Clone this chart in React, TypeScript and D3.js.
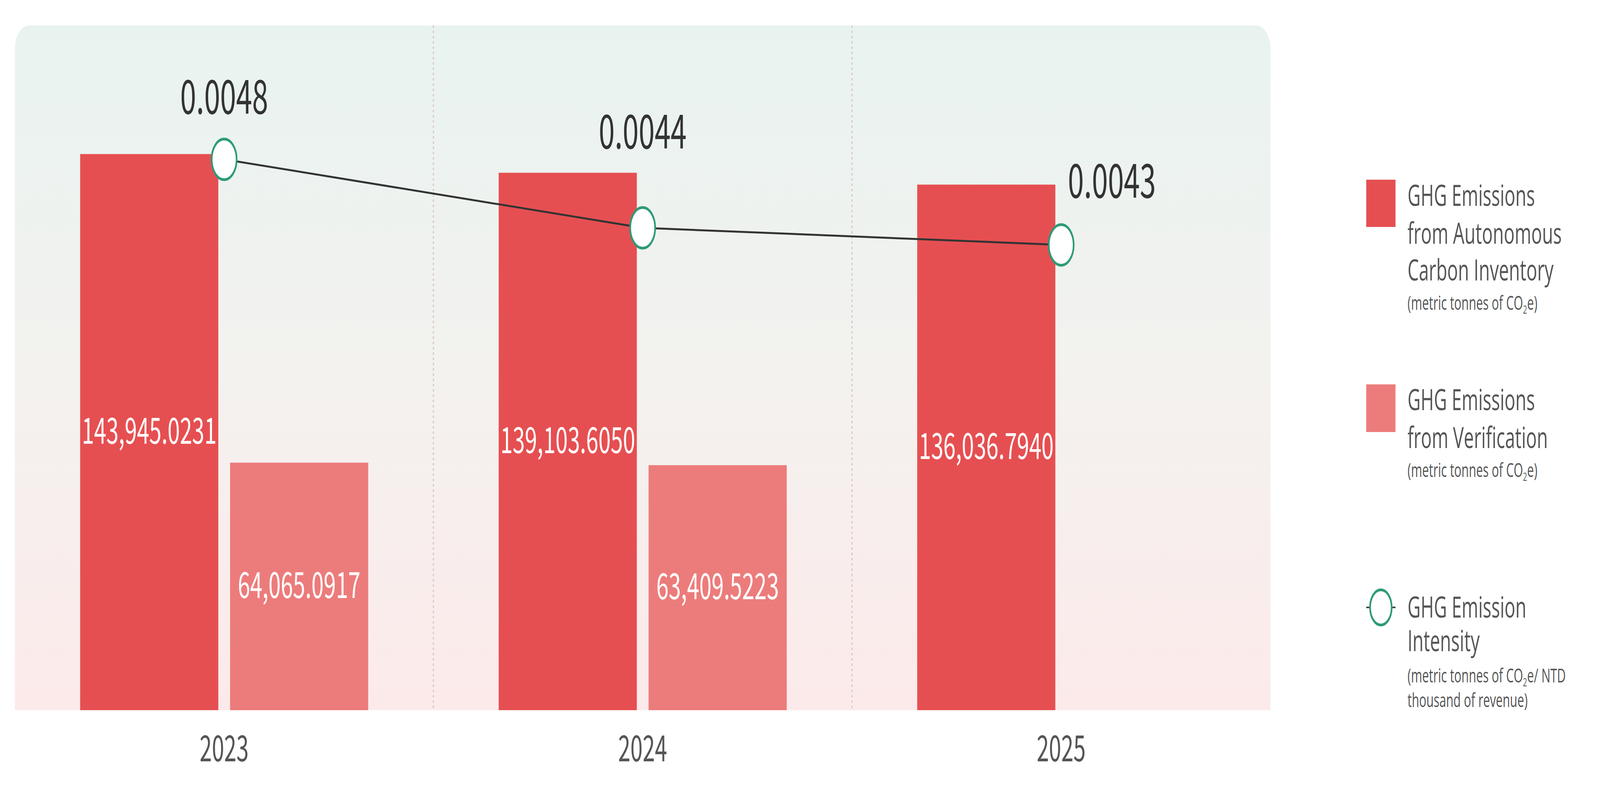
import React from "react";
import * as d3 from "d3";

const years = ["2023", "2024", "2025"];
const autonomous = [143945.0231, 139103.605, 136036.794];
const verification: (number | null)[] = [64065.0917, 63409.5223, null];
const intensity = [0.0048, 0.0044, 0.0043];
const seriesKeys = ["autonomous", "verification"];

const W = 6666;
const H = 2048;
const panel = { x0: 62, x1: 5293, y0: 65, y1: 1818, r: 60 };

const C_MAIN = "#E64F51";
const C_VER = "#EC7C7B";
const C_TEAL = "#2E9A78";
const NUM_FONT = "'Noto Sans CJK TC', 'Noto Sans', sans-serif";
const LEG_FONT = "'Open Sans', 'Noto Sans', sans-serif";

export default function App() {
  const x = d3.scaleBand<string>().domain(years).range([panel.x0, panel.x1]).padding(0);
  const xi = d3
    .scaleBand<string>()
    .domain(seriesKeys)
    .range([272, 1472])
    .paddingInner(0.0785)
    .paddingOuter(0);
  const y = d3.scaleLinear().domain([0, 150000]).range([panel.y1, panel.y1 - 150000 * 0.00989]);
  const yi = d3.scaleLinear().domain([0.0043, 0.0048]).range([627, 408]);
  const fmtBar = d3.format(",.4f");
  const fmtInt = d3.format(".4f");

  const pts = years.map((yr, i) => [x(yr)! + x.bandwidth() / 2, yi(intensity[i])] as [number, number]);
  const line = d3.line()(pts) || "";

  const { x0, x1, y0, y1, r } = panel;
  const panelPath = `M${x0},${y1} L${x0},${y0 + r} A${r},${r} 0 0 1 ${x0 + r},${y0} L${x1 - r},${y0} A${r},${r} 0 0 1 ${x1},${y0 + r} L${x1},${y1} Z`;

  const bars: { key: string; yr: string; v: number; i: number }[] = [];
  years.forEach((yr, i) => {
    bars.push({ key: "autonomous", yr, v: autonomous[i], i });
    const vv = verification[i];
    if (vv != null) bars.push({ key: "verification", yr, v: vv, i });
  });

  const co2 = (
    <>
      CO<tspan fontSize={30} dy={10}>2</tspan>
      <tspan dy={-10}>e</tspan>
    </>
  );

  return (
    <svg
      viewBox={`0 0 ${W} ${H}`}
      preserveAspectRatio="none"
      style={{ position: "fixed", left: 0, top: 0, width: "100vw", height: "100vh", display: "block", background: "#fff" }}
    >
      <defs>
        <linearGradient id="bg" x1="0" y1="0" x2="0" y2="1">
          <stop offset="0" stopColor="#E8F3F0" />
          <stop offset="0.5" stopColor="#F3F2EF" />
          <stop offset="1" stopColor="#FCEAEA" />
        </linearGradient>
      </defs>
      <path d={panelPath} fill="url(#bg)" />
      {years.slice(1).map((yr) => (
        <line
          key={yr}
          x1={x(yr)}
          x2={x(yr)}
          y1={y0}
          y2={y1}
          stroke="#D9C6C6"
          strokeWidth={5}
          strokeDasharray="6 7.5"
        />
      ))}
      {bars.map((b) => {
        const bx = x(b.yr)! + xi(b.key)!;
        const by = y(b.v);
        const bh = y(0) - by;
        return (
          <g key={b.key + b.yr}>
            <rect x={bx} y={by} width={xi.bandwidth()} height={bh} fill={b.key === "autonomous" ? C_MAIN : C_VER} />
            <text
              x={bx + xi.bandwidth() / 2}
              y={by + bh / 2 + 30}
              textAnchor="middle"
              fontFamily={NUM_FONT}
              fontSize={92}
              fill="#FFFFFF"
            >
              {fmtBar(b.v)}
            </text>
          </g>
        );
      })}
      <path d={line} fill="none" stroke="#333333" strokeWidth={5} />
      {pts.map(([cx, cy], i) => {
        const last = i === pts.length - 1;
        const topBar = y(Math.max(autonomous[i], verification[i] ?? 0));
        const ly = last ? cy - 121 : Math.min(cy - 117, topBar - 62);
        return (
          <g key={years[i]}>
            <circle cx={cx} cy={cy} r={52} fill="#FFFFFF" stroke={C_TEAL} strokeWidth={7} />
            <text
              x={last ? cx + 28 : cx}
              y={ly}
              textAnchor={last ? "start" : "middle"}
              fontFamily={NUM_FONT}
              fontSize={120}
              fill="#333333"
            >
              {fmtInt(intensity[i])}
            </text>
          </g>
        );
      })}
      {years.map((yr) => (
        <text
          key={yr}
          x={x(yr)! + x.bandwidth() / 2}
          y={1949}
          textAnchor="middle"
          fontFamily={NUM_FONT}
          fontSize={92}
          fill="#555555"
        >
          {yr}
        </text>
      ))}

      <g fontFamily={LEG_FONT} fill="#555555">
        <rect x={5692} y={460} width={122} height={121} fill={C_MAIN} />
        <text x={5864} y={527} fontSize={75}>GHG Emissions</text>
        <text x={5864} y={624} fontSize={75}>from Autonomous</text>
        <text x={5864} y={718} fontSize={75}>Carbon Inventory</text>
        <text x={5864} y={793} fontSize={50}>(metric tonnes of {co2})</text>

        <rect x={5692} y={984} width={122} height={122} fill={C_VER} />
        <text x={5864} y={1050} fontSize={75}>GHG Emissions</text>
        <text x={5864} y={1147} fontSize={75}>from Verification</text>
        <text x={5864} y={1221} fontSize={50}>(metric tonnes of {co2})</text>

        <line x1={5692} x2={5814} y1={1555} y2={1555} stroke="#444444" strokeWidth={4} />
        <circle cx={5753} cy={1555} r={45} fill="#FFFFFF" stroke={C_TEAL} strokeWidth={7} />
        <text x={5864} y={1581} fontSize={75}>GHG Emission</text>
        <text x={5864} y={1667} fontSize={75}>Intensity</text>
        <text x={5864} y={1747} fontSize={50}>(metric tonnes of {co2}/ NTD</text>
        <text x={5864} y={1810} fontSize={50}>thousand of revenue)</text>
      </g>
    </svg>
  );
}
